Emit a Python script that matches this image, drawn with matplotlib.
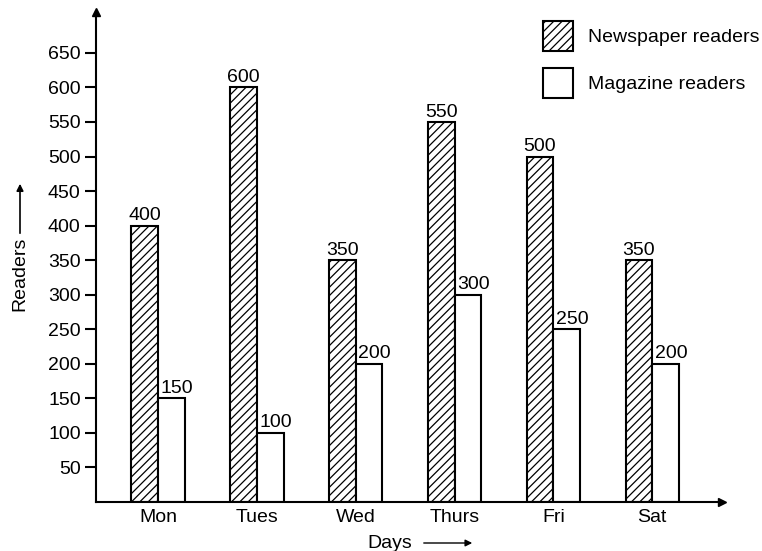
import numpy as np
import matplotlib
matplotlib.use("Agg")
import matplotlib.pyplot as plt

plt.rcParams['font.family'] = ['Liberation Sans', 'DejaVu Sans']
plt.rcParams['hatch.linewidth'] = 0.9

days = ['Mon', 'Tues', 'Wed', 'Thurs', 'Fri', 'Sat']
newspaper = [400, 600, 350, 550, 500, 350]
magazine = [150, 100, 200, 300, 250, 200]
yticks = [50, 100, 150, 200, 250, 300, 350, 400, 450, 500, 550, 600, 650]

fs = 14

fig = plt.figure(figsize=(7.62, 5.51), dpi=100)
ax = fig.add_axes([0.126, 0.089, 0.822, 0.889])

x = np.arange(len(days))
w = 0.27

ax.bar(x - w/2, newspaper, w, color='white', edgecolor='black',
       hatch='////', linewidth=1.5, label='Newspaper readers')
ax.bar(x + w/2, magazine, w, color='white', edgecolor='black',
       linewidth=1.5, label='Magazine readers')

for xi, v in zip(x, newspaper):
    ax.annotate(str(v), (xi - w/2, v), xytext=(0, 1), textcoords='offset points',
                ha='center', va='bottom', fontsize=fs)
for xi, v in zip(x, magazine):
    ax.annotate(str(v), (xi + w/2, v), xytext=(4, 1), textcoords='offset points',
                ha='center', va='bottom', fontsize=fs)

ax.set_xlim(-0.628, 5.71)
ax.set_ylim(0, 709)
ax.set_yticks(yticks)
ax.set_xticks(x)
ax.set_xticklabels(days)
ax.tick_params(axis='y', direction='out', length=8, width=1.5, labelsize=fs, pad=3)
ax.tick_params(axis='x', length=0, labelsize=fs, pad=5)

for s in ['top', 'right']:
    ax.spines[s].set_visible(False)
for s in ['left', 'bottom']:
    ax.spines[s].set_linewidth(1.5)

# arrow heads on the axes
ax.plot(0, 1, '^', color='black', markersize=6, transform=ax.transAxes, clip_on=False)
ax.plot(1, 0, '>', color='black', markersize=6, transform=ax.transAxes, clip_on=False)

# axis labels with arrows
fig.text(20/762, 1 - 274/551, 'Readers', rotation=90, ha='center', va='center', fontsize=fs)
fig.add_artist(matplotlib.patches.FancyArrowPatch(
    (20/762, 1 - 236/551), (20/762, 1 - 181/551), transform=fig.transFigure,
    arrowstyle='-|>', mutation_scale=10, color='black', linewidth=1.2))
fig.text(390/762, 1 - 543/551, 'Days', ha='center', va='center', fontsize=fs)
fig.add_artist(matplotlib.patches.FancyArrowPatch(
    (421/762, 1 - 543/551), (475/762, 1 - 543/551), transform=fig.transFigure,
    arrowstyle='-|>', mutation_scale=10, color='black', linewidth=1.0))

ax.legend(loc='upper left', bbox_to_anchor=(543/762, 1 - 21/551),
          bbox_transform=fig.transFigure, frameon=False, borderpad=0, borderaxespad=0,
          fontsize=fs, handlelength=1.55, handleheight=2.0,
          handletextpad=0.75, labelspacing=0.85)

fig.savefig('out.png', dpi=100)
